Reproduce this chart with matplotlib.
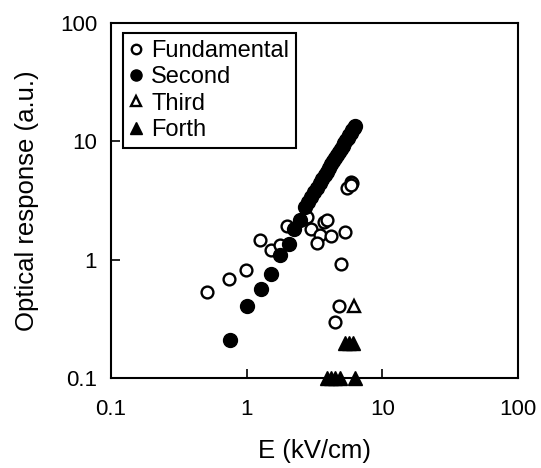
import matplotlib
matplotlib.use("Agg")
import matplotlib.pyplot as plt
from matplotlib.ticker import FixedLocator, NullLocator

# ======================
# Data
# ======================
fund_x = [0.51, 0.74, 0.99, 1.25, 1.52, 1.77, 1.98, 2.81, 2.97, 3.48, 3.29,
          3.72, 3.89, 4.17, 5.27, 4.93, 4.76, 4.48, 5.45, 5.83, 6.03, 5.9]
fund_y = [0.53, 0.69, 0.82, 1.46, 1.20, 1.34, 1.94, 2.30, 1.82, 1.63, 1.38,
          2.07, 2.18, 1.60, 1.73, 0.92, 0.41, 0.30, 4.08, 4.59, 4.50, 4.30]

second_x = [0.755, 1.0, 1.27, 1.52, 1.77, 2.04, 2.22, 2.48,
            2.7, 2.85, 3.0, 3.15, 3.3, 3.45, 3.6, 3.75, 3.9, 4.05, 4.2, 4.35,
            4.5, 4.65, 4.8, 4.95, 5.1, 5.25, 5.4, 5.55, 5.7, 5.85, 6.0, 6.15, 6.27]
second_y = [0.21, 0.41, 0.565, 0.76, 1.10, 1.36, 1.82, 2.18,
            2.79, 3.09, 3.40, 3.73, 4.07, 4.42, 4.79, 5.17, 5.57, 5.98, 6.40, 6.84,
            7.29, 7.75, 8.23, 8.72, 9.22, 9.74, 10.3, 10.8, 11.4, 11.9, 12.5, 13.1, 13.6]

third_x = [6.17]
third_y = [0.41]

forth_x = [5.3, 5.7, 6.1, 3.9, 4.2, 4.5, 4.9, 6.3]
forth_y = [0.2, 0.2, 0.2, 0.1, 0.1, 0.1, 0.1, 0.1]

ticks = [0.1, 1, 10, 100]
tick_labels = ["0.1", "1", "10", "100"]

# ======================
# Plot
# ======================
plt.rcParams["font.family"] = ["Liberation Sans", "DejaVu Sans"]

fig = plt.figure(figsize=(5.41, 4.68), dpi=100)
ax = fig.add_axes([0.205, 0.192, 0.7525, 0.7585])

ax.plot(fund_x, fund_y, "o", ms=8.5, mfc="white", mec="black", mew=1.7,
        label="Fundamental", clip_on=False, zorder=3)
ax.plot(second_x, second_y, "o", ms=10, mfc="black", mec="black",
        label="Second", clip_on=False, zorder=4)
ax.plot(third_x, third_y, "^", ms=8.5, mfc="white", mec="black", mew=1.7,
        label="Third", clip_on=False, zorder=3)
ax.plot(forth_x, forth_y, "^", ms=10, mfc="black", mec="black",
        label="Forth", clip_on=False, zorder=4)

ax.set_xscale("log")
ax.set_yscale("log")
ax.set_xlim(0.1, 100)
ax.set_ylim(0.1, 100)

ax.xaxis.set_major_locator(FixedLocator(ticks))
ax.yaxis.set_major_locator(FixedLocator(ticks))
ax.xaxis.set_minor_locator(NullLocator())
ax.yaxis.set_minor_locator(NullLocator())
ax.set_xticklabels(tick_labels)
ax.set_yticklabels(tick_labels)
ax.tick_params(direction="in", length=6.5, width=1.2, labelsize=16)
ax.tick_params(axis="x", pad=15)
ax.tick_params(axis="y", pad=10)

for s in ax.spines.values():
    s.set_linewidth(1.5)

ax.set_xlabel("E (kV/cm)", fontsize=18.5, labelpad=14)
ax.set_ylabel("Optical response (a.u.)", fontsize=18.5, labelpad=15)

leg = ax.legend(loc="upper left", bbox_to_anchor=(0.029, 0.972), borderaxespad=0,
                fontsize=17, frameon=True, fancybox=False, framealpha=1,
                edgecolor="black", handlelength=0.5, handletextpad=0.4,
                labelspacing=0.18, borderpad=0.3, markerscale=0.8)
leg.get_frame().set_linewidth(1.5)

plt.savefig("out.png", dpi=100)
